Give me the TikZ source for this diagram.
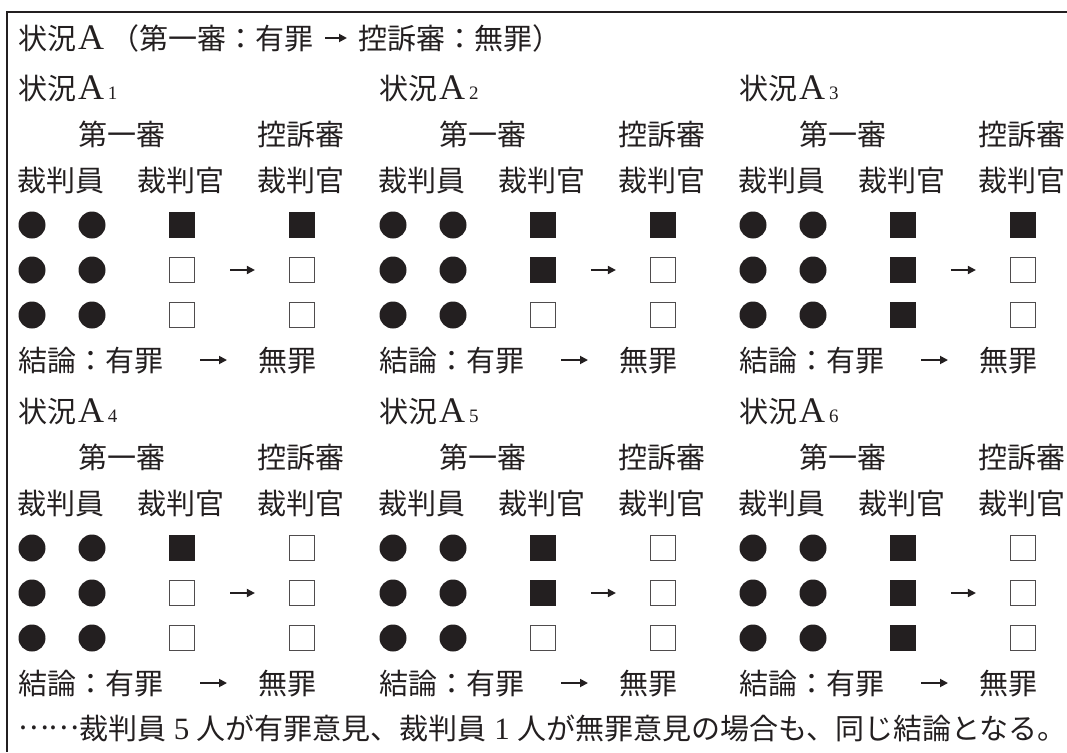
\documentclass[tikz,border=0pt]{standalone}
\usepackage{fontspec}
\newfontfamily\cjk{Noto Sans CJK JP}
\newfontfamily\lat{Liberation Serif}
\usetikzlibrary{arrows.meta}
\definecolor{ink}{HTML}{231F20}
\newcommand\latinA{{\lat\fontsize{36}{36}\selectfont A}}
\newcommand\subdig[1]{{\lat\fontsize{19}{19}\selectfont #1}}
\newcommand\sitlabel[1]{状況\hspace{2pt}\latinA\hspace{4pt}\subdig{#1}}
\newcommand\digit[1]{\hspace{7.5pt}{\lat\fontsize{31}{31}\selectfont #1}\hspace{7.5pt}}
\tikzset{
  txt/.style={inner sep=0pt, outer sep=0pt, text=ink, font=\cjk\fontsize{29}{29}\selectfont, text height=25.5pt, text depth=3.5pt},
  jdot/.style={circle, fill=ink, inner sep=0pt, minimum size=27pt},
  gsq/.style={rectangle, fill=ink, draw=ink, line width=0.6pt, inner sep=0pt, minimum size=25pt},
  nsq/.style={rectangle, fill=white, draw=ink!80, line width=1.2pt, inner sep=0pt, minimum size=25pt},
  arr/.style={-{Triangle[length=8pt,width=8pt]}, line width=1.8pt, draw=ink},
}
% #1 index, #2 x offset, #3 y of block, #4-#6 first instance, #7-#9 appeal
\newcommand\situation[9]{%
  \begin{scope}[shift={(#2,#3)}]
    \node[txt, anchor=west] (lab#1) at (18,0) {\sitlabel{#1}};
    \node[txt] (fi#1) at (122,46) {第一審};
    \node[txt] (ap#1) at (301,46) {控訴審};
    \node[txt] (lj#1) at (61,92) {裁判員};
    \node[txt] (jf#1) at (181,92) {裁判官};
    \node[txt] (ja#1) at (301,92) {裁判官};
    \foreach \r/\yy in {1/137,2/182,3/227}{
      \node[jdot] (d#1-\r-a) at (32,\yy) {};
      \node[jdot] (d#1-\r-b) at (92,\yy) {};
    }
    \node[#4] (f#1-1) at (182,137) {};
    \node[#5] (f#1-2) at (182,182) {};
    \node[#6] (f#1-3) at (182,227) {};
    \node[#7] (a#1-1) at (302,137) {};
    \node[#8] (a#1-2) at (302,182) {};
    \node[#9] (a#1-3) at (302,227) {};
    \draw[arr, shorten <=35pt, shorten >=34pt] (f#1-2) -- (a#1-2);
    \node[txt, anchor=west] (c#1) at (18,272) {結論：有罪};
    \node[txt, anchor=west] (v#1) at (258,272) {無罪};
    \draw[arr, shorten <=37pt, shorten >=31pt] (c#1) -- (v#1);
  \end{scope}}
\begin{document}
\begin{tikzpicture}[x=1pt, y=-1pt]
  \useasboundingbox (0,0) rectangle (1067,752);
  \draw[ink, line width=2pt] (1067,12) -- (7,12) -- (7,752);
  \node[txt, anchor=west] (t1) at (18,38) {状況\hspace{2pt}\latinA\hspace{7pt}（第一審：有罪};
  \node[txt, anchor=west] (t2) at (358,38) {控訴審：無罪）};
  \draw[arr, shorten <=11pt, shorten >=11pt] (t1) -- (t2);
  \situation{1}{0}{88}{gsq}{nsq}{nsq}{gsq}{nsq}{nsq}
  \situation{2}{361}{88}{gsq}{gsq}{nsq}{gsq}{nsq}{nsq}
  \situation{3}{721}{88}{gsq}{gsq}{gsq}{gsq}{nsq}{nsq}
  \situation{4}{0}{411}{gsq}{nsq}{nsq}{nsq}{nsq}{nsq}
  \situation{5}{361}{411}{gsq}{gsq}{nsq}{nsq}{nsq}{nsq}
  \situation{6}{721}{411}{gsq}{gsq}{gsq}{nsq}{nsq}{nsq}
  \node[txt, anchor=west] (note) at (18,728) {\raisebox{10pt}{……}裁判員\digit{5}人が有罪意見、裁判員\digit{1}人が無罪意見の場合も、同じ結論となる。};
\end{tikzpicture}
\end{document}
